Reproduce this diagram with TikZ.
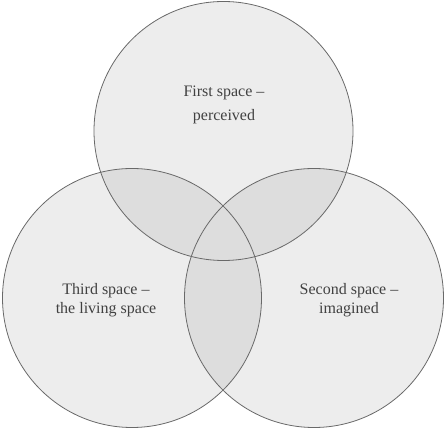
\documentclass[tikz,border=0pt]{standalone}
\usepackage{fontspec}
\setmainfont{Liberation Serif}
\definecolor{vennfill}{RGB}{237,237,237}
\definecolor{vennlap}{RGB}{221,221,221}
\definecolor{vennline}{RGB}{105,105,105}
\definecolor{venntext}{RGB}{65,65,65}

\begin{document}
\begin{tikzpicture}[x=1pt,y=-1pt]
			\useasboundingbox (0,0) rectangle (445,430);
			\def\rad{129.5}
			\coordinate (first) at (223.5,131);
			\coordinate (third) at (132,298);
			\coordinate (second) at (314,298);
			\fill[vennfill] (first) circle[radius=\rad] (third) circle[radius=\rad] (second) circle[radius=\rad];
			\begin{scope}
				\clip (first) circle[radius=\rad];
				\fill[vennlap] (third) circle[radius=\rad] (second) circle[radius=\rad];
			\end{scope}
			\begin{scope}
				\clip (third) circle[radius=\rad];
				\fill[vennlap] (second) circle[radius=\rad];
			\end{scope}
			\draw[vennline, line width=0.8pt] (first) circle[radius=\rad];
			\draw[vennline, line width=0.8pt] (third) circle[radius=\rad];
			\draw[vennline, line width=0.8pt] (second) circle[radius=\rad];
			\node[venntext, align=center, inner sep=0, font=\fontsize{16}{24}\selectfont] (firstlbl) at (224,105) {First space --\\perceived};
			\node[venntext, align=center, inner sep=0, font=\fontsize{16}{19.5}\selectfont] (thirdlbl) at (106,300) {Third space --\\the living space};
			\node[venntext, align=center, inner sep=0, font=\fontsize{16}{19.5}\selectfont] (secondlbl) at (349,300) {Second space --\\imagined};
		\end{tikzpicture}
\end{document}
